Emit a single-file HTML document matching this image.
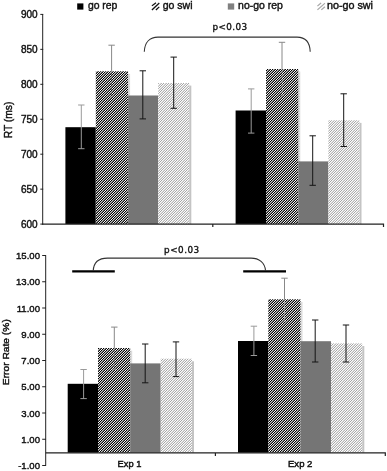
<!DOCTYPE html>
<html><head><meta charset="utf-8"><title>chart</title>
<style>
html,body{margin:0;padding:0;background:#fff;}
svg{display:block;will-change:transform;font-family:"Liberation Sans",Arial,sans-serif;}
.ax{font-size:10px;fill:#111;stroke:#111;stroke-width:0.4px;}
.lg{font-size:10.5px;fill:#111;stroke:#111;stroke-width:0.4px;}
.pv{font-family:"DejaVu Sans","Liberation Sans",sans-serif;font-size:8.8px;fill:#111;stroke:#111;stroke-width:0.35px;}
</style></head><body>
<svg width="387" height="471" viewBox="0 0 387 471">
<defs>
<pattern id="hb" patternUnits="userSpaceOnUse" width="5" height="5" shape-rendering="crispEdges"><rect x="0" y="0" width="1" height="1" fill="#fdfdfd"/><rect x="1" y="0" width="1" height="1" fill="#000000"/><rect x="2" y="0" width="1" height="1" fill="#c6c6c6"/><rect x="3" y="0" width="1" height="1" fill="#6e6e6e"/><rect x="4" y="0" width="1" height="1" fill="#161616"/><rect x="0" y="1" width="1" height="1" fill="#000000"/><rect x="1" y="1" width="1" height="1" fill="#c6c6c6"/><rect x="2" y="1" width="1" height="1" fill="#6e6e6e"/><rect x="3" y="1" width="1" height="1" fill="#161616"/><rect x="4" y="1" width="1" height="1" fill="#fdfdfd"/><rect x="0" y="2" width="1" height="1" fill="#c6c6c6"/><rect x="1" y="2" width="1" height="1" fill="#6e6e6e"/><rect x="2" y="2" width="1" height="1" fill="#161616"/><rect x="3" y="2" width="1" height="1" fill="#fdfdfd"/><rect x="4" y="2" width="1" height="1" fill="#000000"/><rect x="0" y="3" width="1" height="1" fill="#6e6e6e"/><rect x="1" y="3" width="1" height="1" fill="#161616"/><rect x="2" y="3" width="1" height="1" fill="#fdfdfd"/><rect x="3" y="3" width="1" height="1" fill="#000000"/><rect x="4" y="3" width="1" height="1" fill="#c6c6c6"/><rect x="0" y="4" width="1" height="1" fill="#161616"/><rect x="1" y="4" width="1" height="1" fill="#fdfdfd"/><rect x="2" y="4" width="1" height="1" fill="#000000"/><rect x="3" y="4" width="1" height="1" fill="#c6c6c6"/><rect x="4" y="4" width="1" height="1" fill="#6e6e6e"/></pattern>
<pattern id="hl" patternUnits="userSpaceOnUse" width="5" height="5" shape-rendering="crispEdges"><rect x="0" y="0" width="1" height="1" fill="#ffffff"/><rect x="1" y="0" width="1" height="1" fill="#a5a5a5"/><rect x="2" y="0" width="1" height="1" fill="#fbfbfb"/><rect x="3" y="0" width="1" height="1" fill="#dadada"/><rect x="4" y="0" width="1" height="1" fill="#b9b9b9"/><rect x="0" y="1" width="1" height="1" fill="#a5a5a5"/><rect x="1" y="1" width="1" height="1" fill="#fbfbfb"/><rect x="2" y="1" width="1" height="1" fill="#dadada"/><rect x="3" y="1" width="1" height="1" fill="#b9b9b9"/><rect x="4" y="1" width="1" height="1" fill="#ffffff"/><rect x="0" y="2" width="1" height="1" fill="#fbfbfb"/><rect x="1" y="2" width="1" height="1" fill="#dadada"/><rect x="2" y="2" width="1" height="1" fill="#b9b9b9"/><rect x="3" y="2" width="1" height="1" fill="#ffffff"/><rect x="4" y="2" width="1" height="1" fill="#a5a5a5"/><rect x="0" y="3" width="1" height="1" fill="#dadada"/><rect x="1" y="3" width="1" height="1" fill="#b9b9b9"/><rect x="2" y="3" width="1" height="1" fill="#ffffff"/><rect x="3" y="3" width="1" height="1" fill="#a5a5a5"/><rect x="4" y="3" width="1" height="1" fill="#fbfbfb"/><rect x="0" y="4" width="1" height="1" fill="#b9b9b9"/><rect x="1" y="4" width="1" height="1" fill="#ffffff"/><rect x="2" y="4" width="1" height="1" fill="#a5a5a5"/><rect x="3" y="4" width="1" height="1" fill="#fbfbfb"/><rect x="4" y="4" width="1" height="1" fill="#dadada"/></pattern>
<filter id="ct" x="0" y="0" width="1" height="1" color-interpolation-filters="sRGB"><feComponentTransfer><feFuncR type="linear" slope="1.6" intercept="-0.3"/><feFuncG type="linear" slope="1.6" intercept="-0.3"/><feFuncB type="linear" slope="1.6" intercept="-0.3"/></feComponentTransfer></filter>
</defs>
<rect width="387" height="471" fill="#fff"/>

<rect x="77.2" y="3.4" width="6.2" height="6.2" fill="#000"/>
<text class="lg" x="87.9" y="9.4" textLength="29.5" lengthAdjust="spacingAndGlyphs">go rep</text>
<path d="M152.4,5.4 L155.4,3.2 M152.4,9.5 L158.8,3.5 M156.4,9.5 L158.8,7.3" stroke="#111" stroke-width="1.3" stroke-linecap="square" fill="none"/>
<text class="lg" x="162.7" y="9.4" textLength="29.8" lengthAdjust="spacingAndGlyphs">go swi</text>
<rect x="227.8" y="3.4" width="6.4" height="6.2" fill="#808080"/>
<text class="lg" x="238.1" y="9.4" textLength="44.7" lengthAdjust="spacingAndGlyphs">no-go rep</text>
<path d="M317.9,5.6 L320.7,3.3 M317.9,9.5 L324.5,3.6 M321.8,9.5 L324.5,7.1" stroke="#a8a8a8" stroke-width="1.2" stroke-linecap="square" fill="none"/>
<text class="lg" x="327" y="9.4" textLength="46" lengthAdjust="spacingAndGlyphs">no-go swi</text>
<text class="ax" x="37.6" y="18" text-anchor="end">900</text>
<path d="M40.3,14.4 H43.2" stroke="#222" stroke-width="1"/>
<text class="ax" x="37.6" y="52.95" text-anchor="end">850</text>
<path d="M40.3,49.35 H43.2" stroke="#222" stroke-width="1"/>
<text class="ax" x="37.6" y="87.9" text-anchor="end">800</text>
<path d="M40.3,84.3 H43.2" stroke="#222" stroke-width="1"/>
<text class="ax" x="37.6" y="122.85" text-anchor="end">750</text>
<path d="M40.3,119.25 H43.2" stroke="#222" stroke-width="1"/>
<text class="ax" x="37.6" y="157.8" text-anchor="end">700</text>
<path d="M40.3,154.2 H43.2" stroke="#222" stroke-width="1"/>
<text class="ax" x="37.6" y="192.75" text-anchor="end">650</text>
<path d="M40.3,189.15 H43.2" stroke="#222" stroke-width="1"/>
<text class="ax" x="37.6" y="227.7" text-anchor="end">600</text>
<path d="M40.3,224.1 H43.2" stroke="#222" stroke-width="1"/>
<text transform="translate(12,138.3) rotate(-90)" font-size="11.5" fill="#111" stroke="#111" stroke-width="0.45" textLength="36.7" lengthAdjust="spacingAndGlyphs">RT (ms)</text>
<rect x="65.4" y="127.2" width="30.4" height="96.8" fill="#000"/>
<rect x="128.1" y="73.9" width="2" height="150.1" fill="#dcdcdc"/>
<rect x="95.8" y="71.3" width="32.3" height="152.7" fill="url(#hb)"/>
<rect x="128.1" y="95.5" width="30.1" height="128.5" fill="#757575"/>
<rect x="189.2" y="85.6" width="2.1" height="138.4" fill="#c4c4c4"/>
<rect x="158.2" y="83" width="31" height="141" fill="url(#hl)"/>
<path d="M78.1,105 H84.5 M81.3,105 V148.7 M78.1,148.7 H84.5" stroke="#9a9a9a" stroke-width="1" fill="none"/>
<path d="M108.4,45.2 H114.8 M111.6,45.2 V71.3" stroke="#888" stroke-width="1" fill="none"/>
<path d="M111.6,71.3 V96 M109.6,96 H113.6" stroke="#999" stroke-width="1" stroke-opacity="0.85" stroke-dasharray="1.3,1.2" fill="none"/>
<path d="M139.6,70.8 H146 M142.8,70.8 V118.9 M139.6,118.9 H146" stroke="#151515" stroke-width="1" fill="none"/>
<path d="M170.5,57.1 H176.9 M173.7,57.1 V108.3 M170.5,108.3 H176.9" stroke="#151515" stroke-width="1" fill="none"/>
<rect x="235.6" y="110.5" width="30.4" height="113.5" fill="#000"/>
<rect x="298.3" y="71.6" width="2" height="152.4" fill="#dcdcdc"/>
<rect x="266" y="69" width="32.3" height="155" fill="url(#hb)"/>
<rect x="298.3" y="161.4" width="30.1" height="62.6" fill="#757575"/>
<rect x="359.4" y="122.9" width="2.1" height="101.1" fill="#c4c4c4"/>
<rect x="328.4" y="120.3" width="31" height="103.7" fill="url(#hl)"/>
<path d="M248,88.9 H254.4 M251.2,88.9 V133.1 M248,133.1 H254.4" stroke="#9a9a9a" stroke-width="1" fill="none"/>
<path d="M278.8,42.3 H285.2 M282,42.3 V69" stroke="#888" stroke-width="1" fill="none"/>
<path d="M282,69 V95.5 M280,95.5 H284" stroke="#999" stroke-width="1" stroke-opacity="0.85" stroke-dasharray="1.3,1.2" fill="none"/>
<path d="M309.5,135.8 H315.9 M312.7,135.8 V185.3 M309.5,185.3 H315.9" stroke="#151515" stroke-width="1" fill="none"/>
<path d="M340.5,93.8 H346.9 M343.7,93.8 V146.5 M340.5,146.5 H346.9" stroke="#151515" stroke-width="1" fill="none"/>
<path d="M42.7,14 V224.6" stroke="#222" stroke-width="1" fill="none"/>
<path d="M42.2,224.2 H383.5 V226.9 M212.8,224.2 V226.9" stroke="#222" stroke-width="1.2" fill="none"/>
<path d="M144.3,51.8 C144.6,42 150,37.1 158,37.1 H297 C305,37.1 309.9,42 310.2,51.8" stroke="#333" stroke-width="1.1" fill="none"/>
<text class="pv" x="212.5" y="29.8" textLength="34.6" lengthAdjust="spacing">p&lt;0.03</text>
<text class="ax" style="font-size:9.6px" x="40" y="259" text-anchor="end">15.00</text>
<path d="M42.2,255.5 H46" stroke="#222" stroke-width="1"/>
<text class="ax" style="font-size:9.6px" x="40" y="285.25" text-anchor="end">13.00</text>
<path d="M42.2,281.75 H46" stroke="#222" stroke-width="1"/>
<text class="ax" style="font-size:9.6px" x="40" y="311.5" text-anchor="end">11.00</text>
<path d="M42.2,308 H46" stroke="#222" stroke-width="1"/>
<text class="ax" style="font-size:9.6px" x="40" y="337.75" text-anchor="end">9.00</text>
<path d="M42.2,334.25 H46" stroke="#222" stroke-width="1"/>
<text class="ax" style="font-size:9.6px" x="40" y="364" text-anchor="end">7.00</text>
<path d="M42.2,360.5 H46" stroke="#222" stroke-width="1"/>
<text class="ax" style="font-size:9.6px" x="40" y="390.25" text-anchor="end">5.00</text>
<path d="M42.2,386.75 H46" stroke="#222" stroke-width="1"/>
<text class="ax" style="font-size:9.6px" x="40" y="416.5" text-anchor="end">3.00</text>
<path d="M42.2,413 H46" stroke="#222" stroke-width="1"/>
<text class="ax" style="font-size:9.6px" x="40" y="442.75" text-anchor="end">1.00</text>
<path d="M42.2,439.25 H46" stroke="#222" stroke-width="1"/>
<text class="ax" style="font-size:9.6px" x="40" y="469" text-anchor="end">-1.00</text>
<path d="M42.2,465.5 H46" stroke="#222" stroke-width="1"/>
<text transform="translate(8.9,385.2) rotate(-90)" font-size="9.7" fill="#111" stroke="#111" stroke-width="0.4" textLength="66" lengthAdjust="spacingAndGlyphs">Error Rate (%)</text>
<rect x="67.7" y="383.8" width="30.3" height="68.9" fill="#000"/>
<rect x="130.2" y="350.6" width="2" height="102.1" fill="#dcdcdc"/>
<rect x="98" y="348" width="32.2" height="104.7" fill="url(#hb)"/>
<rect x="130.2" y="363.4" width="30.5" height="89.3" fill="#757575"/>
<rect x="191.9" y="361.3" width="2.1" height="91.4" fill="#c4c4c4"/>
<rect x="160.7" y="358.7" width="31.2" height="94" fill="url(#hl)"/>
<path d="M80.4,369.5 H86.8 M83.6,369.5 V398.6 M80.4,398.6 H86.8" stroke="#9a9a9a" stroke-width="1" fill="none"/>
<path d="M111.1,327.1 H117.5 M114.3,327.1 V348" stroke="#888" stroke-width="1" fill="none"/>
<path d="M114.3,348 V369.2 M112.3,369.2 H116.3" stroke="#999" stroke-width="1" stroke-opacity="0.85" stroke-dasharray="1.3,1.2" fill="none"/>
<path d="M142,344 H148.4 M145.2,344 V382.8 M142,382.8 H148.4" stroke="#151515" stroke-width="1" fill="none"/>
<path d="M172.8,341.9 H179.2 M176,341.9 V376.6 M172.8,376.6 H179.2" stroke="#151515" stroke-width="1" fill="none"/>
<rect x="238" y="341" width="30.3" height="111.7" fill="#000"/>
<rect x="300.5" y="301.9" width="2" height="150.8" fill="#dcdcdc"/>
<rect x="268.3" y="299.3" width="32.2" height="153.4" fill="url(#hb)"/>
<rect x="300.5" y="341.2" width="30.5" height="111.5" fill="#757575"/>
<rect x="362.2" y="346" width="2.1" height="106.7" fill="#c4c4c4"/>
<rect x="331" y="343.4" width="31.2" height="109.3" fill="url(#hl)"/>
<path d="M250.7,326.2 H257.1 M253.9,326.2 V355.5 M250.7,355.5 H257.1" stroke="#9a9a9a" stroke-width="1" fill="none"/>
<path d="M281.3,278.2 H287.7 M284.5,278.2 V299.3" stroke="#888" stroke-width="1" fill="none"/>
<path d="M284.5,299.3 V322 M282.5,322 H286.5" stroke="#999" stroke-width="1" stroke-opacity="0.85" stroke-dasharray="1.3,1.2" fill="none"/>
<path d="M312,320 H318.4 M315.2,320 V362 M312,362 H318.4" stroke="#151515" stroke-width="1" fill="none"/>
<path d="M342.8,325 H349.2 M346,325 V362 M342.8,362 H349.2" stroke="#151515" stroke-width="1" fill="none"/>
<path d="M45.7,255.2 V465.8" stroke="#222" stroke-width="1" fill="none"/>
<path d="M45.7,452.85 H385.3 V455.9 M215.4,452.85 V455.9" stroke="#222" stroke-width="1.2" fill="none"/>
<path d="M72.2,271.4 H114.8 M243.2,271.4 H286" stroke="#000" stroke-width="2.1" fill="none"/>
<path d="M93.2,271 C93.6,262.5 99,258.1 107.5,258.1 H251 C259,258.1 265,262.5 265.6,271" stroke="#333" stroke-width="1.1" fill="none"/>
<text class="pv" x="164.1" y="253.1" textLength="35.1" lengthAdjust="spacing">p&lt;0.03</text>
<text class="ax" style="font-size:9.6px;stroke-width:0.45px" x="117.6" y="467.3" textLength="23.8" lengthAdjust="spacingAndGlyphs">Exp 1</text>
<text class="ax" style="font-size:9.6px;stroke-width:0.45px" x="288" y="467.3" textLength="24.4" lengthAdjust="spacingAndGlyphs">Exp 2</text>
</svg></body></html>
